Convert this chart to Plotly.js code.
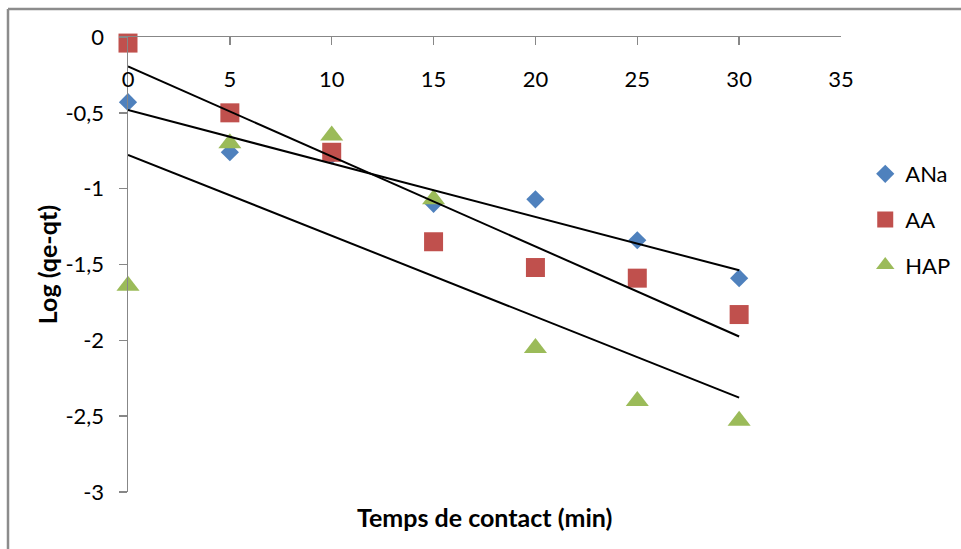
<!DOCTYPE html>
<html>
<head>
<meta charset="utf-8">
<script src="https://cdn.plot.ly/plotly-3.0.1.min.js"></script>
<style>
  html, body { margin: 0; padding: 0; background: #fff; }
  #chart { width: 961px; height: 549px; }
</style>
</head>
<body>
<div id="chart"></div>
<script>
// Contact time (min)
const tempsContact = [0, 5, 10, 15, 20, 25, 30];

// Log(qe - qt) for each adsorbent
const logANa = [-0.43, -0.76, -0.78, -1.10, -1.07, -1.34, -1.59];
const logAA  = [-0.04, -0.50, -0.76, -1.35, -1.52, -1.59, -1.83];
const logHAP = [-1.64, -0.70, -0.65, -1.07, -2.05, -2.40, -2.53];

const seriesNames = ['ANa', 'AA', 'HAP'];

// Axis ticks
const xTicks = [0, 5, 10, 15, 20, 25, 30, 35];
const xTickText = ['0', '5', '10', '15', '20', '25', '30', '35'];
const yTicks = [0, -0.5, -1, -1.5, -2, -2.5, -3];
const yTickText = ['0', '-0,5', '-1', '-1,5', '-2', '-2,5', '-3'];

const colors = ['#4F81BD', '#C0504D', '#9BBB59'];
const symbols = ['diamond', 'square', 'triangle-up'];
const sizes = [14, 19, 20];
const axisGray = '#878787';
const font = 'Lato, "Open Sans", sans-serif';

// Least-squares straight line through a series
function linearFit(xs, ys) {
  const n = xs.length;
  const mx = xs.reduce((a, b) => a + b, 0) / n;
  const my = ys.reduce((a, b) => a + b, 0) / n;
  let sxy = 0, sxx = 0;
  for (let i = 0; i < n; i++) {
    sxy += (xs[i] - mx) * (ys[i] - my);
    sxx += (xs[i] - mx) * (xs[i] - mx);
  }
  const slope = sxy / sxx;
  return { slope, intercept: my - slope * mx };
}

const allSeries = [logANa, logAA, logHAP];
const traces = [];

allSeries.forEach((ys, i) => {
  traces.push({
    type: 'scatter',
    mode: 'markers',
    name: seriesNames[i],
    legendgroup: seriesNames[i],
    x: tempsContact,
    y: ys,
    marker: { symbol: symbols[i], size: sizes[i], color: colors[i], line: { width: 0 } },
    cliponaxis: false,
    hoverinfo: 'x+y+name'
  });
});

// Linear trend lines
allSeries.forEach((ys, i) => {
  const fit = linearFit(tempsContact, ys);
  const x0 = Math.min(...tempsContact), x1 = Math.max(...tempsContact);
  traces.push({
    type: 'scatter',
    mode: 'lines',
    x: [x0, x1],
    y: [fit.intercept + fit.slope * x0, fit.intercept + fit.slope * x1],
    line: { color: '#000000', width: 2 },
    showlegend: false,
    hoverinfo: 'skip'
  });
});

const layout = {
  width: 961,
  height: 549,
  margin: { l: 128, r: 120, t: 37, b: 57, pad: 0, autoexpand: false },
  paper_bgcolor: '#ffffff',
  plot_bgcolor: '#ffffff',
  font: { family: font, size: 22, color: '#000000' },
  showlegend: true,
  legend: {
    x: 1.034, xanchor: 'left',
    y: 0.745, yanchor: 'top',
    traceorder: 'grouped',
    tracegroupgap: 14,
    font: { family: font, size: 22, color: '#000000' },
    bgcolor: 'rgba(0,0,0,0)'
  },
  xaxis: {
    side: 'top',
    range: [0, 35],
    tickvals: xTicks,
    ticktext: xTickText,
    ticks: 'inside',
    ticklen: 8,
    tickwidth: 1.5,
    tickcolor: axisGray,
    ticklabelposition: 'inside',
    ticklabeloverflow: 'allow',
    ticklabelstandoff: 28,
    showline: true,
    linecolor: axisGray,
    linewidth: 1.5,
    showgrid: false,
    zeroline: false,
    tickfont: { family: font, size: 22, color: '#000000' }
  },
  yaxis: {
    range: [-3, 0],
    tickvals: yTicks,
    ticktext: yTickText,
    ticks: 'outside',
    ticklen: 8,
    tickwidth: 1.5,
    tickcolor: axisGray,
    ticklabelstandoff: 10,
    ticklabeloverflow: 'allow',
    showline: true,
    linecolor: axisGray,
    linewidth: 1.5,
    showgrid: false,
    zeroline: false,
    tickfont: { family: font, size: 22, color: '#000000' }
  },
  annotations: [
    {
      text: '<b>Temps de contact (min)</b>',
      xref: 'paper', yref: 'paper',
      x: 0.5, y: -0.055, xanchor: 'center', yanchor: 'middle',
      showarrow: false,
      font: { family: font, size: 25, color: '#000000' }
    },
    {
      text: '<b>Log (qe-qt)</b>',
      xref: 'paper', yref: 'paper',
      x: -0.114, y: 0.5, xanchor: 'center', yanchor: 'middle',
      textangle: -90,
      showarrow: false,
      font: { family: font, size: 25, color: '#000000' }
    }
  ],
  shapes: [
    // chart-area frame (left and top edges)
    { type: 'line', xref: 'paper', yref: 'paper', x0: -0.1683, x1: -0.1683, y0: 1.0615, y1: -0.2, line: { color: '#8c8c8c', width: 2.5 } },
    { type: 'line', xref: 'paper', yref: 'paper', x0: -0.1683, x1: 1.2, y0: 1.0615, y1: 1.0615, line: { color: '#8c8c8c', width: 2.5 } }
  ]
};

Plotly.newPlot('chart', traces, layout, { displayModeBar: false, staticPlot: true });
</script>
</body>
</html>
